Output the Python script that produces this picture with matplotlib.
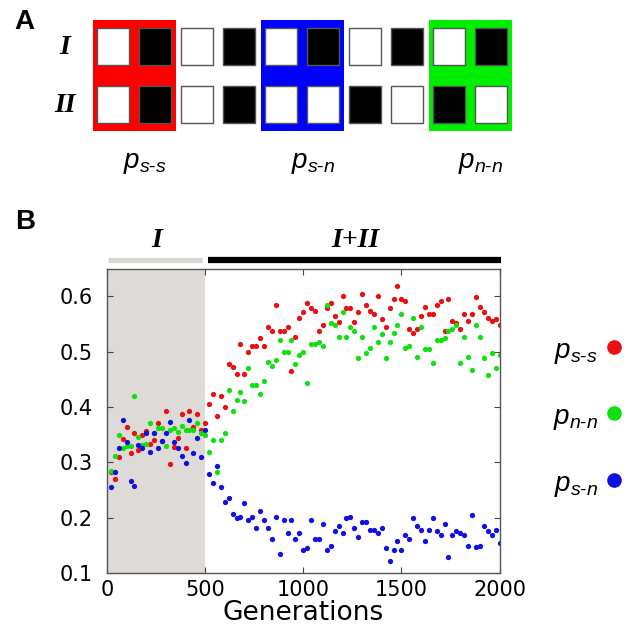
import matplotlib
matplotlib.use("Agg")
import matplotlib.pyplot as plt
from matplotlib.patches import Rectangle
import numpy as np

plt.rcParams["mathtext.fontset"] = "custom"
plt.rcParams["mathtext.it"] = "Liberation Sans:italic"
plt.rcParams["mathtext.rm"] = "Liberation Sans"

# Panel A: pattern of white (0) / black (1) squares in rows I and II
row_I = [0, 1, 0, 1, 0, 1, 0, 1, 0, 1]
row_II = [0, 1, 0, 1, 0, 0, 1, 0, 1, 0]
box_cols = [0, 4, 8]
box_colors = ["#ff0000", "#0000ff", "#00ee00"]
box_labels = [r"$p_{s\text{-}s}$", r"$p_{s\text{-}n}$", r"$p_{n\text{-}n}$"]

# Panel B: sampled every 20 generations
generations = np.arange(20, 2001, 20)
p_ss = [0.283, 0.269, 0.309, 0.342, 0.363, 0.316, 0.353, 0.323, 0.349, 0.356,
        0.333, 0.340, 0.370, 0.339, 0.393, 0.296, 0.327, 0.343, 0.387, 0.326,
        0.393, 0.363, 0.387, 0.358, 0.370, 0.406, 0.423, 0.383, 0.419, 0.400,
        0.477, 0.472, 0.460, 0.514, 0.460, 0.500, 0.510, 0.510, 0.524, 0.510,
        0.544, 0.537, 0.584, 0.537, 0.537, 0.544, 0.464, 0.527, 0.561, 0.571,
        0.588, 0.578, 0.573, 0.537, 0.548, 0.578, 0.588, 0.564, 0.554, 0.601,
        0.578, 0.578, 0.554, 0.571, 0.604, 0.584, 0.574, 0.567, 0.601, 0.558,
        0.544, 0.578, 0.594, 0.618, 0.594, 0.591, 0.541, 0.534, 0.541, 0.564,
        0.581, 0.567, 0.567, 0.584, 0.591, 0.537, 0.594, 0.555, 0.551, 0.541,
        0.567, 0.555, 0.567, 0.598, 0.581, 0.571, 0.561, 0.555, 0.558, 0.548]
p_nn = [0.285, 0.312, 0.349, 0.325, 0.330, 0.329, 0.420, 0.345, 0.332, 0.333,
        0.370, 0.352, 0.362, 0.361, 0.329, 0.359, 0.362, 0.355, 0.366, 0.359,
        0.359, 0.359, 0.370, 0.352, 0.350, 0.319, 0.340, 0.282, 0.340, 0.353,
        0.430, 0.393, 0.413, 0.427, 0.410, 0.471, 0.440, 0.440, 0.423, 0.447,
        0.481, 0.474, 0.484, 0.521, 0.500, 0.500, 0.521, 0.477, 0.494, 0.500,
        0.444, 0.514, 0.514, 0.517, 0.510, 0.584, 0.551, 0.547, 0.527, 0.571,
        0.527, 0.544, 0.537, 0.488, 0.527, 0.497, 0.507, 0.544, 0.517, 0.531,
        0.488, 0.517, 0.534, 0.548, 0.567, 0.507, 0.510, 0.561, 0.490, 0.544,
        0.504, 0.504, 0.480, 0.521, 0.521, 0.524, 0.537, 0.540, 0.547, 0.480,
        0.527, 0.490, 0.467, 0.547, 0.527, 0.488, 0.457, 0.497, 0.471, 0.494]
p_sn = [0.255, 0.282, 0.326, 0.376, 0.336, 0.266, 0.258, 0.332, 0.326, 0.352,
        0.319, 0.352, 0.326, 0.338, 0.353, 0.372, 0.336, 0.326, 0.312, 0.299,
        0.376, 0.316, 0.343, 0.309, 0.359, 0.279, 0.262, 0.293, 0.256, 0.228,
        0.235, 0.206, 0.199, 0.202, 0.226, 0.195, 0.202, 0.182, 0.212, 0.195,
        0.182, 0.162, 0.202, 0.135, 0.195, 0.172, 0.195, 0.162, 0.172, 0.142,
        0.145, 0.195, 0.162, 0.162, 0.188, 0.142, 0.149, 0.175, 0.185, 0.173,
        0.199, 0.202, 0.182, 0.165, 0.192, 0.192, 0.178, 0.178, 0.173, 0.182,
        0.145, 0.122, 0.142, 0.158, 0.142, 0.169, 0.161, 0.199, 0.185, 0.178,
        0.158, 0.178, 0.199, 0.175, 0.169, 0.188, 0.128, 0.169, 0.175, 0.173,
        0.169, 0.148, 0.205, 0.147, 0.148, 0.185, 0.175, 0.169, 0.178, 0.155]

red, green, blue = "#e81010", "#10e010", "#1010e0"

fig = plt.figure(figsize=(6.29, 6.35), dpi=100)

# overlay in pixel units for the schematic and free text
ov = fig.add_axes([0, 0, 1, 1])
ov.set_xlim(0, 629)
ov.set_ylim(635, 0)
ov.axis("off")

col_x0, col_step = 113, 42
row_y = [46, 104]
sq_w, sq_h = 32, 37

for k, c in zip(box_cols, box_colors):
    x0 = col_x0 + k * col_step - sq_w / 2 - 4.5
    x1 = col_x0 + (k + 1) * col_step + sq_w / 2 + 4.5
    ov.add_patch(Rectangle((x0, 20), x1 - x0, 111, color=c, lw=0))

for r, row in enumerate([row_I, row_II]):
    for k, v in enumerate(row):
        cx = col_x0 + k * col_step
        ov.add_patch(Rectangle((cx - sq_w / 2, row_y[r] - sq_h / 2), sq_w, sq_h,
                               facecolor="black" if v else "white",
                               edgecolor="#555555", lw=1))

ov.text(65, row_y[0] + 2, "I", family="Liberation Serif", style="italic",
        weight="bold", fontsize=20, ha="center", va="center")
ov.text(65, row_y[1] + 2, "II", family="Liberation Serif", style="italic",
        weight="bold", fontsize=20, ha="center", va="center")

for k, lab in zip(box_cols, box_labels):
    cx = col_x0 + (k + 0.5) * col_step
    ov.text(cx + 11, 162, lab, fontsize=20, ha="center", va="center")

ov.text(24, 22, "A", family="Liberation Sans", weight="bold", fontsize=20,
        ha="center", va="center")
ov.text(25, 222, "B", family="Liberation Sans", weight="bold", fontsize=20,
        ha="center", va="center")

# legend on the right
for y, lab, c in zip([347, 413, 480],
                     [r"$p_{s\text{-}s}$", r"$p_{n\text{-}n}$", r"$p_{s\text{-}n}$"],
                     [red, green, blue]):
    ov.text(598, y + 5, lab, fontsize=20, ha="right", va="center")
    ov.plot(614, y, "o", color=c, markersize=9.5)

# Panel B
ax = fig.add_axes([107 / 629, 1 - 573 / 635, 392.5 / 629, 304 / 635])
ax.axvspan(0, 500, color="#dedad7", lw=0)
ax.plot(generations, p_ss, "o", color=red, markersize=3.8, mec="none")
ax.plot(generations, p_nn, "o", color=green, markersize=3.8, mec="none")
ax.plot(generations, p_sn, "o", color=blue, markersize=3.8, mec="none")

ax.set_xlim(0, 2000)
ax.set_ylim(0.1, 0.649)
ax.set_xticks([0, 500, 1000, 1500, 2000])
ax.set_yticks([0.1, 0.2, 0.3, 0.4, 0.5, 0.6])
ax.tick_params(direction="in", top=True, right=True, length=4, labelsize=15,
               color="#444444")
ax.tick_params(axis="x", pad=5)
ax.tick_params(axis="y", pad=10)
for s in ax.spines.values():
    s.set_color("#555555")
    s.set_linewidth(1)
ax.set_xlabel("Generations", fontsize=19, labelpad=0)

tr = ax.get_xaxis_transform()
ax.plot([5, 485], [1.03, 1.03], color="#d9d6d3", lw=3.8, transform=tr,
        clip_on=False, solid_capstyle="butt")
ax.plot([515, 2010], [1.03, 1.03], color="black", lw=4.5, transform=tr,
        clip_on=False, solid_capstyle="butt")
ax.text(255, 1.095, "I", transform=tr, family="Liberation Serif",
        style="italic", weight="bold", fontsize=20, ha="center", va="center")
ax.text(1265, 1.095, "I+II", transform=tr, family="Liberation Serif",
        style="italic", weight="bold", fontsize=20, ha="center", va="center")

fig.savefig("out.png", dpi=100)
